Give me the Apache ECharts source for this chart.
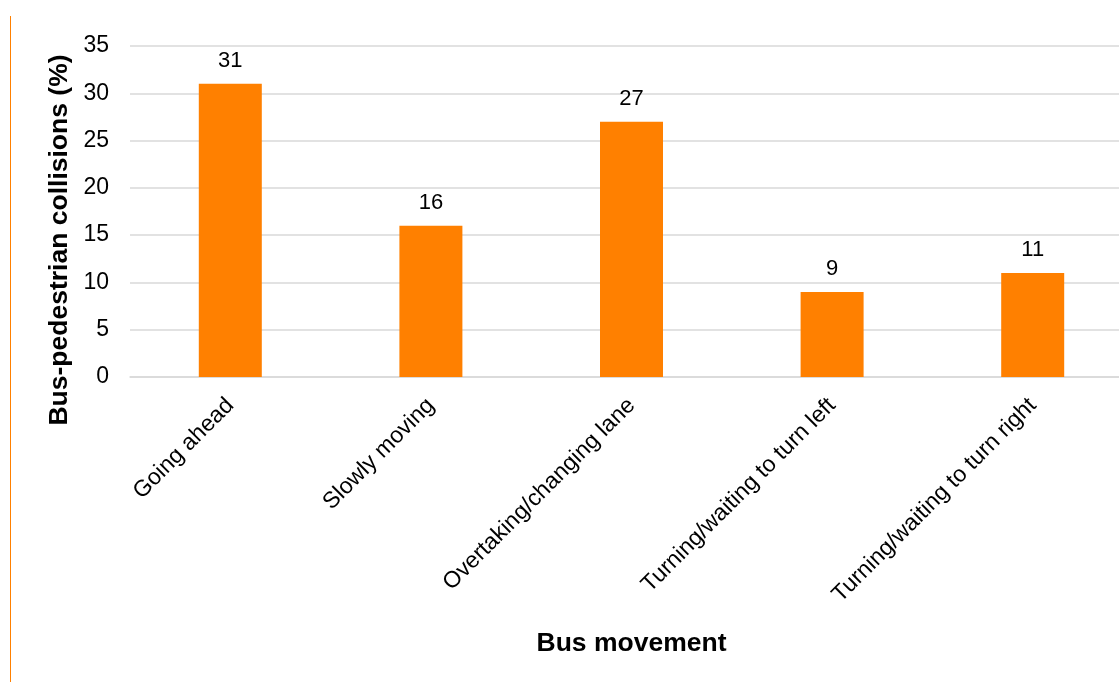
<!DOCTYPE html>
<html>
<head>
<meta charset="utf-8">
<script src="https://cdn.jsdelivr.net/npm/echarts@6/dist/echarts.min.js"></script>
<style>
  html, body { margin: 0; padding: 0; background: #ffffff; overflow: hidden; }
  /* the plot runs a little past the right edge of the window */
  #chart { width: 1133px; height: 682px; }
</style>
</head>
<body>
<div id="chart"></div>
<script>
// Bus movement categories and share of bus-pedestrian collisions (%)
const categories = [
  'Going ahead',
  'Slowly moving',
  'Overtaking/changing lane',
  'Turning/waiting to turn left',
  'Turning/waiting to turn right'
];
const collisionShare = [31, 16, 27, 9, 11];
const yTicks = { min: 0, max: 35, interval: 5 };

const FONT = '"Liberation Sans", Arial, Helvetica, sans-serif';
const ORANGE = '#ff8000';
const GRID_GRAY = '#d9d9d9';

const chart = echarts.init(document.getElementById('chart'), null, { renderer: 'canvas' });

chart.setOption({
  backgroundColor: '#ffffff',
  animation: false,
  grid: { left: 130, top: 46, right: 0, height: 331, containLabel: false },
  xAxis: {
    type: 'category',
    data: categories,
    axisLine: { show: true, lineStyle: { color: GRID_GRAY, width: 1.5 } },
    axisTick: { show: false },
    axisLabel: {
      rotate: 45,
      margin: 25,
      interval: 0,
      color: '#000000',
      fontFamily: FONT,
      fontSize: 23
    },
    name: 'Bus movement',
    nameLocation: 'middle',
    nameGap: 253,
    nameTextStyle: { color: '#000000', fontFamily: FONT, fontSize: 26.5, fontWeight: 'bold' }
  },
  yAxis: {
    type: 'value',
    min: yTicks.min,
    max: yTicks.max,
    interval: yTicks.interval,
    axisLine: { show: false },
    axisTick: { show: false },
    splitLine: { show: true, lineStyle: { color: GRID_GRAY, width: 1.5 } },
    axisLabel: { margin: 21, color: '#000000', fontFamily: FONT, fontSize: 23 }
  },
  series: [{
    type: 'bar',
    data: collisionShare,
    barWidth: 63,
    itemStyle: { color: ORANGE },
    label: {
      show: true,
      position: 'top',
      distance: 12,
      color: '#000000',
      fontFamily: FONT,
      fontSize: 22
    }
  }],
  graphic: [
    {
      type: 'line',
      shape: { x1: 10.5, y1: 16, x2: 10.5, y2: 682 },
      style: { stroke: ORANGE, lineWidth: 1 }
    },
    {
      type: 'text',
      x: 60,
      y: 240,
      rotation: Math.PI / 2,
      style: {
        text: 'Bus-pedestrian collisions (%)',
        font: 'bold 26.5px ' + FONT,
        fill: '#000000',
        textAlign: 'center',
        textVerticalAlign: 'middle'
      }
    }
  ]
});
</script>
</body>
</html>
